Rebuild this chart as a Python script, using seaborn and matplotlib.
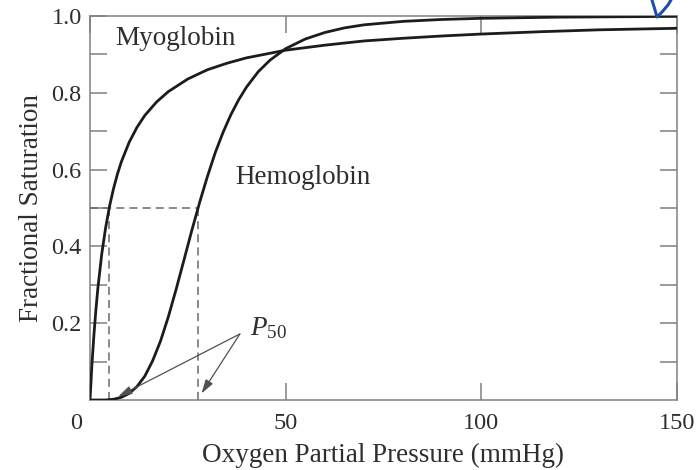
import matplotlib
matplotlib.use("Agg")
import matplotlib.pyplot as plt
from matplotlib.lines import Line2D
from matplotlib.transforms import ScaledTranslation
import numpy as np
import pandas as pd
import seaborn as sns

# ---- data ----
myo_po2 = [0, 0.5, 1, 1.5, 2, 3, 4, 5, 6, 7, 8, 10, 12, 14, 17, 20, 25, 30, 35,
           40, 50, 60, 70, 80, 90, 100, 115, 130, 150]
myo_sat = [0.0, 0.093, 0.169, 0.234, 0.290, 0.380, 0.449, 0.505, 0.550, 0.588,
           0.620, 0.671, 0.710, 0.741, 0.776, 0.803, 0.836, 0.860, 0.877,
           0.891, 0.911, 0.924, 0.935, 0.942, 0.948, 0.953, 0.959, 0.964, 0.968]

hb_po2 = [0, 4, 6, 8, 10, 12, 14, 16, 18, 20, 22, 24, 26, 28, 30, 32, 34, 36,
          38, 40, 43, 46, 50, 55, 60, 65, 70, 80, 90, 100, 120, 150]
hb_sat = [0.0, 0.0, 0.002, 0.007, 0.017, 0.035, 0.062, 0.102, 0.153, 0.216,
          0.288, 0.364, 0.441, 0.514, 0.582, 0.644, 0.697, 0.743, 0.782, 0.815,
          0.855, 0.885, 0.915, 0.940, 0.957, 0.969, 0.977, 0.986, 0.991, 0.994,
          0.997, 0.999]

p50_myo = 4.9
p50_hb = 27.6
half_sat = 0.5

x_ticks = [0, 50, 100, 150]
x_tick_labels = ["0", "50", "100", "150"]
y_ticks = [0.2, 0.4, 0.6, 0.8, 1.0]
y_tick_labels = ["0.2", "0.4", "0.6", "0.8", "1.0"]
y_minor_ticks = [0.1, 0.3, 0.5, 0.7, 0.9]

x_label = "Oxygen Partial Pressure (mmHg)"
y_label = "Fractional Saturation"

# ---- styling ----
sns.set_theme(style="white")
plt.rcParams["font.family"] = ["Liberation Serif", "DejaVu Serif"]
plt.rcParams["mathtext.fontset"] = "custom"
plt.rcParams["mathtext.rm"] = "Liberation Serif"
plt.rcParams["mathtext.it"] = "Liberation Serif:italic"

spine_c = "#808080"
text_c = "#2e2e2e"
curve_c = "#1c1c1c"

fig = plt.figure(figsize=(6.98, 4.70), dpi=100)
ax = fig.add_axes([90 / 698, 70 / 470, (677 - 90) / 698, (400 - 16) / 470])

df = pd.concat([
    pd.DataFrame({"pO2": myo_po2, "sat": myo_sat, "protein": "Myoglobin"}),
    pd.DataFrame({"pO2": hb_po2, "sat": hb_sat, "protein": "Hemoglobin"}),
], ignore_index=True)

sns.lineplot(data=df, x="pO2", y="sat", hue="protein",
             palette={"Myoglobin": curve_c, "Hemoglobin": curve_c},
             estimator=None, sort=False, legend=False, lw=2.0, ax=ax,
             zorder=3)

# P50 guide lines
dash = (0, (5.3, 3.3))
ax.plot([0, p50_hb], [half_sat, half_sat], ls=dash, color="#6a6a6a", lw=1.1)
ax.plot([p50_myo, p50_myo], [0, half_sat], ls=dash, color="#6a6a6a", lw=1.1)
ax.plot([p50_hb, p50_hb], [0, half_sat], ls=dash, color="#6a6a6a", lw=1.1)

# annotations
ax.text(6.4, 0.925, "Myoglobin", fontsize=19.5, color=text_c, va="baseline")
ax.text(37.1, 0.5625, "Hemoglobin", fontsize=19.5, color=text_c, va="baseline")
ax.text(40.9, 0.169, r"$P_{50}$", fontsize=19.5, color=text_c, va="baseline")

arrow_kw = dict(arrowstyle="-|>,head_length=0.6,head_width=0.18",
                color="#505050", lw=0.9, mutation_scale=14,
                shrinkA=0, shrinkB=0)
ax.annotate("", xy=(7.2, 0.009), xytext=(38.3, 0.172), arrowprops=arrow_kw)
ax.annotate("", xy=(28.5, 0.017), xytext=(38.3, 0.172), arrowprops=arrow_kw)

# axes
ax.set_xlim(0, 150)
ax.set_ylim(0, 1.0)
ax.set_xticks(x_ticks)
ax.set_xticklabels(x_tick_labels)
ax.set_yticks(y_ticks)
ax.set_yticklabels(y_tick_labels)
ax.set_yticks(y_minor_ticks, minor=True)
ax.set_xlabel(x_label, fontsize=19.5, color=text_c, labelpad=6)
ax.set_ylabel(y_label, fontsize=19.5, color=text_c, labelpad=5)

for s in ax.spines.values():
    s.set_visible(True)
    s.set_color(spine_c)
    s.set_linewidth(1.1)

ax.tick_params(which="both", direction="in", length=12, width=1.1,
               color=spine_c, top=True, right=True, left=True, bottom=True)
ax.tick_params(axis="x", labelsize=17.5, labelcolor=text_c, pad=9.5)
ax.tick_params(axis="y", labelsize=17.5, labelcolor=text_c, pad=6)

# shift the "0" label to the left like in the reference
lbl0 = ax.get_xticklabels()[0]
lbl0.set_transform(lbl0.get_transform() + ScaledTranslation(-0.14, 0, fig.dpi_scale_trans))

# small blue pen mark at top right of the page
px = np.array([652, 655, 657, 662, 668, 671])
py = np.array([0, 10, 17, 12, 5, 0])
fig.lines.append(Line2D(px / 698, 1 - py / 470, transform=fig.transFigure,
                        color="#1f4fa8", lw=2.2, solid_capstyle="round"))

fig.savefig("out.png", dpi=100)
